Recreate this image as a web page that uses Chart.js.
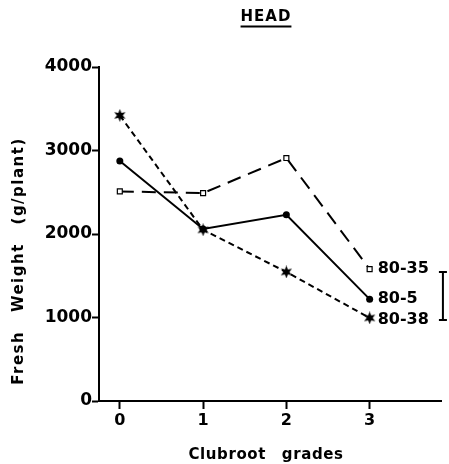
<!DOCTYPE html>
<html>
<head>
<meta charset="utf-8">
<script src="https://cdn.jsdelivr.net/npm/chart.js@4/dist/chart.umd.min.js"></script>
<style>
html,body{margin:0;padding:0;background:#fff;}
#wrap{width:449px;height:464px;}
</style>
</head>
<body>
<div id="wrap"><canvas id="c" width="449" height="464"></canvas></div>
<script>
// ---- data ----
const grades = [0, 1, 2, 3];
const xTickLabels = ['0', '1', '2', '3'];
const yTickValues = [0, 1000, 2000, 3000, 4000];
const yTickLabels = ['0', '1000', '2000', '3000', '4000'];
const seriesNames = ['80-35', '80-5', '80-38'];
const line8035 = [2510, 2490, 2910, 1580];
const line805 = [2875, 2060, 2230, 1220];
const line8038 = [3420, 2050, 1545, 995];
const lsdBar = [970, 1545];
const lsdX = 3.88;
const chartTitle = 'HEAD';
const xTitle = 'Clubroot grades';
const yTitle = 'Fresh Weight (g/plant)';

function pts(vals) { return grades.map((g, i) => ({x: g, y: vals[i]})); }

// star marker
const starCv = document.createElement('canvas');
starCv.width = 13; starCv.height = 13;
(function(){
  const c = starCv.getContext('2d');
  c.fillStyle = '#000';
  c.beginPath();
  const cx = 6.5, cy = 6.5, R = 6.5, r = 3.0;
  for (let i = 0; i < 12; i++) {
    const a = -Math.PI/2 + i * Math.PI / 6;
    const rad = (i % 2 === 0) ? R : r;
    const px = cx + rad * Math.cos(a), py = cy + rad * Math.sin(a);
    if (i === 0) c.moveTo(px, py); else c.lineTo(px, py);
  }
  c.closePath();
  c.fill();
})();

const FONT = '"DejaVu Sans", sans-serif';

const textPlugin = {
  id: 'textPlugin',
  afterDraw(chart) {
    const ctx = chart.ctx;
    const xs = chart.scales.x, ys = chart.scales.y;
    ctx.save();
    ctx.fillStyle = '#000';
    ctx.strokeStyle = '#000';
    // Title
    ctx.font = 'bold 15px ' + FONT;
    ctx.letterSpacing = '1px';
    ctx.textAlign = 'center';
    ctx.textBaseline = 'middle';
    const tcx = 266;
    ctx.fillText(chartTitle, tcx, 17);
    const tw = ctx.measureText(chartTitle).width;
    ctx.lineWidth = 2;
    ctx.beginPath();
    ctx.moveTo(tcx - tw/2, 26.5); ctx.lineTo(tcx + tw/2, 26.5);
    ctx.stroke();
    // x title
    ctx.font = 'bold 15px ' + FONT;
    ctx.letterSpacing = '0.6px';
    ctx.wordSpacing = '10px';
    ctx.fillText(xTitle, 266, 455);
    // y title
    ctx.save();
    ctx.translate(19, 261);
    ctx.rotate(-Math.PI/2);
    ctx.letterSpacing = '1.5px';
    ctx.wordSpacing = '12px';
    ctx.fillText(yTitle, 0, 0);
    ctx.restore();
    // series labels
    ctx.font = 'bold 16px ' + FONT;
    ctx.letterSpacing = '0px';
    ctx.wordSpacing = '0px';
    ctx.textAlign = 'left';
    const last = grades.length - 1;
    const lbl = [[seriesNames[0], line8035[last], 0], [seriesNames[1], line805[last], 0], [seriesNames[2], line8038[last], 2]];
    lbl.forEach(([t, v, dy]) => {
      ctx.fillText(t, xs.getPixelForValue(grades[last]) + 8, ys.getPixelForValue(v) + dy);
    });
    // LSD bar
    const bx = xs.getPixelForValue(lsdX);
    const y1 = ys.getPixelForValue(lsdBar[0]), y2 = ys.getPixelForValue(lsdBar[1]);
    ctx.lineWidth = 2;
    ctx.beginPath();
    ctx.moveTo(bx, y1); ctx.lineTo(bx, y2);
    ctx.moveTo(bx - 4, y1); ctx.lineTo(bx + 4, y1);
    ctx.moveTo(bx - 4, y2); ctx.lineTo(bx + 4, y2);
    ctx.stroke();
    ctx.restore();
  }
};

new Chart(document.getElementById('c'), {
  type: 'line',
  data: {
    datasets: [
      {label: seriesNames[0], data: pts(line8035), borderColor: '#000', borderWidth: 2,
       borderDash: [14, 8], pointStyle: 'rect', pointRadius: 3.5, pointBackgroundColor: '#fff',
       pointBorderColor: '#000', pointBorderWidth: 1.2, tension: 0, fill: false},
      {label: seriesNames[1], data: pts(line805), borderColor: '#000', borderWidth: 2,
       pointStyle: 'circle', pointRadius: 3.5, pointBackgroundColor: '#000',
       pointBorderColor: '#000', pointBorderWidth: 0, tension: 0, fill: false},
      {label: seriesNames[2], data: pts(line8038), borderColor: '#000', borderWidth: 2,
       borderDash: [6, 4], pointStyle: starCv, pointRadius: 6, tension: 0, fill: false}
    ]
  },
  options: {
    responsive: false,
    animation: false,
    devicePixelRatio: 1,
    layout: {padding: {top: 67, right: 5, left: 0, bottom: 0}},
    plugins: {legend: {display: false}, tooltip: {enabled: false}, title: {display: false}},
    scales: {
      x: {
        type: 'linear', min: -0.25, max: 3.857,
        afterBuildTicks: s => { s.ticks = grades.map(v => ({value: v})); },
        afterFit: s => { s.height = 63; },
        ticks: {callback: (v) => xTickLabels[grades.indexOf(v)], color: '#000',
                font: {family: FONT, size: 16, weight: 'bold'}, padding: 2, maxRotation: 0},
        grid: {drawOnChartArea: false, tickLength: 8, tickColor: '#000', tickWidth: 2},
        border: {color: '#000', width: 2}
      },
      y: {
        type: 'linear', min: 0, max: 4000,
        afterBuildTicks: s => { s.ticks = yTickValues.map(v => ({value: v})); },
        afterFit: s => { s.width = 99; },
        ticks: {callback: (v) => yTickLabels[yTickValues.indexOf(v)], color: '#000',
                font: {family: FONT, size: 17, weight: 'bold'}, padding: 0},
        grid: {drawOnChartArea: false, tickLength: 7, tickColor: '#000', tickWidth: 2},
        border: {color: '#000', width: 2}
      }
    }
  },
  plugins: [textPlugin]
});
</script>
</body>
</html>
